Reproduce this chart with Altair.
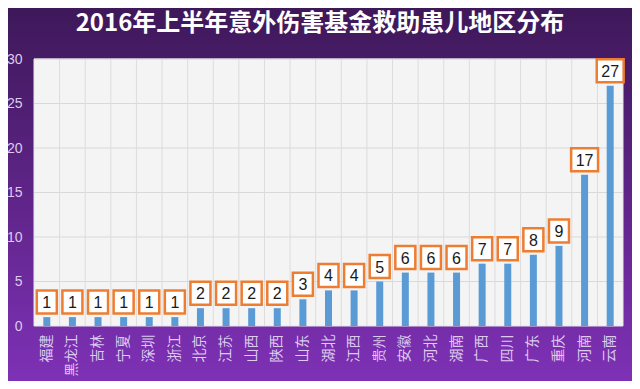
import altair as alt
import pandas as pd

# ---- data ----
regions = ["福建", "黑龙江", "吉林", "宁夏", "深圳", "浙江", "北京", "江苏", "山西", "陕西",
           "山东", "湖北", "江西", "贵州", "安徽", "河北", "湖南", "广西", "四川", "广东",
           "重庆", "河南", "云南"]
counts = [1, 1, 1, 1, 1, 1, 2, 2, 2, 2, 3, 4, 4, 5, 6, 6, 6, 7, 7, 8, 9, 17, 27]
y_ticks = [0, 5, 10, 15, 20, 25, 30]
title_text = "2016年上半年意外伤害基金救助患儿地区分布"

# ---- layout ----
TOTAL_W, TOTAL_H = 624, 373
PAD_L, PAD_T = 26, 51
W, H = 589, 267
PAD_R = TOTAL_W - PAD_L - W
PAD_B = TOTAL_H - PAD_T - H

df = pd.DataFrame({
    "region": regions,
    "value": counts,
    "label": [str(c) for c in counts],
    "digits": [str(len(str(c))) for c in counts],
})
grid_df = pd.DataFrame({"value": [t for t in y_ticks if t > 0]})
one = pd.DataFrame({"t": [title_text]})

y_scale = alt.Scale(domain=[0, 30], nice=False, zero=True)
x_scale = alt.Scale(paddingInner=0, paddingOuter=0)

background = alt.Chart(one).mark_rect(
    color=alt.LinearGradient(
        gradient="linear", x1=0, y1=0, x2=0, y2=1,
        stops=[alt.GradientStop(offset=0, color="#3e1859"),
               alt.GradientStop(offset=1, color="#7e31b6")]
    )
).encode(
    x=alt.value(-PAD_L), x2=alt.value(W + PAD_R),
    y=alt.value(-PAD_T), y2=alt.value(H + PAD_B),
)

plot_bg = alt.Chart(one).mark_rect(
    color="#f4f4f4", stroke="#e6e6e6", strokeWidth=1
).encode(x=alt.value(0), x2=alt.value(W), y=alt.value(0), y2=alt.value(H))

hgrid = alt.Chart(grid_df).mark_rule(color="#d9d9d9", strokeWidth=1).encode(
    y=alt.Y("value:Q", scale=y_scale),
    x=alt.value(0), x2=alt.value(W),
)

vgrid = alt.Chart(df.iloc[1:]).mark_rule(color="#dcdcdc", strokeWidth=1).encode(
    x=alt.X("region:N", sort=regions, bandPosition=0, scale=x_scale),
    y=alt.value(0), y2=alt.value(H),
)

bars = alt.Chart(df).mark_bar(size=7, color="#5b9bd5").encode(
    x=alt.X("region:N", sort=regions, scale=x_scale,
            axis=alt.Axis(title=None, labelAngle=-90, labelColor="#dccbef",
                          labelFont="Noto Sans CJK SC", labelFontSize=14,
                          labelPadding=8, ticks=False, domain=False, grid=False,
                          labelOverlap=False, zindex=1)),
    y=alt.Y("value:Q", scale=y_scale,
            axis=alt.Axis(title=None, values=y_ticks, labelColor="#dccbef",
                          labelFont="Liberation Sans", labelFontSize=14,
                          labelPadding=12, ticks=False, domain=False, grid=False,
                          zindex=1)),
)

boxes = alt.Chart(df).mark_point(
    filled=True, fill="white", stroke="#ed7d31", strokeWidth=2.5, opacity=1,
    size=23 * 23, yOffset=-15
).encode(
    x=alt.X("region:N", sort=regions, scale=x_scale),
    y=alt.Y("value:Q", scale=y_scale),
    shape=alt.Shape("digits:N", legend=None,
                    scale=alt.Scale(domain=["1", "2"],
                                    range=["M-0.87,-1H0.87V1H-0.87Z",
                                           "M-1.17,-1H1.17V1H-1.17Z"])),
)

labels = alt.Chart(df).mark_text(
    font="Liberation Sans", fontSize=16, color="#1a1a1a", baseline="middle",
    align="center", yOffset=-14
).encode(
    x=alt.X("region:N", sort=regions, scale=x_scale),
    y=alt.Y("value:Q", scale=y_scale),
    text="label:N",
)

title = alt.Chart(one).mark_text(
    font="Noto Sans CJK SC", fontSize=24, fontWeight="bold", color="white",
    align="center", baseline="middle"
).encode(x=alt.value(320 - 8 - PAD_L), y=alt.value(24 - 8 - PAD_T), text="t:N")

chart = alt.layer(bars, background, plot_bg, hgrid, vgrid, bars, boxes, labels, title).properties(
    width=W, height=H,
    autosize=alt.AutoSizeParams(type="none"),
    padding={"left": PAD_L, "top": PAD_T, "right": PAD_R, "bottom": PAD_B},
    background="#7e31b6",
).configure_view(stroke=None)

chart.save("out.html", embed_options={"renderer": "svg", "actions": False})
